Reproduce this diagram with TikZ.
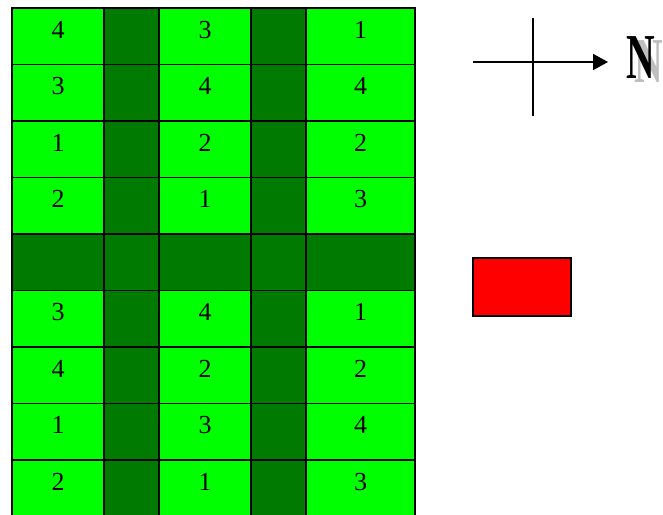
\documentclass[tikz,border=0pt]{standalone}
\usepackage{fontspec}
\setmainfont{Liberation Serif}
\usetikzlibrary{arrows.meta}
\definecolor{plotgreen}{RGB}{0,255,0}
\definecolor{alleygreen}{RGB}{0,122,0}
\definecolor{markred}{RGB}{255,0,0}
\tikzset{
  cell/.style={draw, line width=1.5pt, inner sep=0pt, outer sep=0pt, anchor=north west},
  plotcell/.style={cell, fill=plotgreen},
  alleycell/.style={cell, fill=alleygreen},
  num/.style={font=\fontsize{26}{26}\selectfont, anchor=base, inner sep=0pt},
  legend/.style={draw, line width=1.5pt, fill=markred, inner sep=0pt, outer sep=0pt, anchor=north west, minimum width=98pt, minimum height=58pt},
  north/.style={font=\fontsize{64}{64}\selectfont\bfseries, xscale=0.62, inner sep=0pt, anchor=north west},
  compass/.style={line width=1.8pt},
  cf/.style={compass, -{Triangle[length=15pt, width=16pt]}}
}
\begin{document}
\begin{tikzpicture}[x=1pt, y=-1pt]
  \clip (0,0) rectangle (663,514);
  \fill[white] (0,0) rectangle (663,514);
  % field: plots and alleys
  \foreach \r in {1,...,9} {
    \foreach \xl/\w/\c in {12/92/1, 104/55/2, 159/92/3, 251/55/4, 306/109/5} {
      \pgfmathtruncatemacro{\dark}{(mod(\c,2)==0 || \r==5) ? 1 : 0}
      \ifnum\dark=1
        \node[alleycell, minimum width=\w pt, minimum height=56.5pt] (c\r\c) at (\xl, {8+56.5*(\r-1)}) {};
      \else
        \node[plotcell, minimum width=\w pt, minimum height=56.5pt] (c\r\c) at (\xl, {8+56.5*(\r-1)}) {};
      \fi
    }
  }
  % treatment numbers
  \foreach \r/\a/\b/\d in {1/4/3/1, 2/3/4/4, 3/1/2/2, 4/2/1/3, 6/3/4/1, 7/4/2/2, 8/1/3/4, 9/2/1/3} {
    \node[num] (n\r a) at (58, {38+56.5*(\r-1)}) {\a};
    \node[num] (n\r b) at (205, {38+56.5*(\r-1)}) {\b};
    \node[num] (n\r d) at (360.5, {38+56.5*(\r-1)}) {\d};
  }
  % compass
  \coordinate (west) at (473,62);
  \coordinate (east) at (608,62);
  \coordinate (top) at (533,18);
  \coordinate (bot) at (533,116);
  \draw[cf] (west) -- (east);
  \draw[compass] (top) -- (bot);
  \node[north, text=black!25] (nshadow) at (634,40) {N};
  \node[north] (nlabel) at (626,36) {N};
  % legend
  \node[legend] (mark) at (473,258) {};
\end{tikzpicture}
\end{document}
